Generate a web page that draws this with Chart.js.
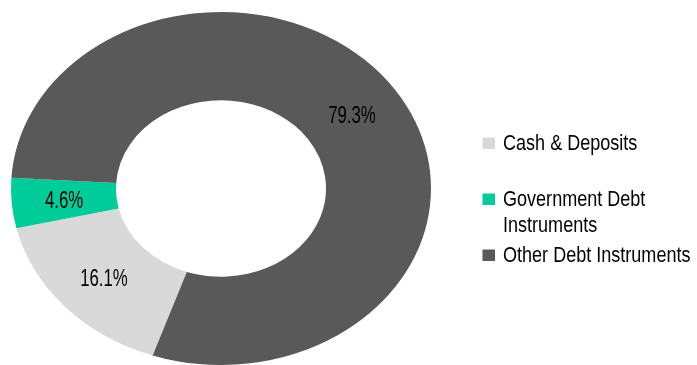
<!DOCTYPE html>
<html>
<head>
<meta charset="utf-8">
<script src="https://cdn.jsdelivr.net/npm/chart.js@4.4.0/dist/chart.umd.min.js"></script>
<style>
  html, body { margin: 0; padding: 0; background: #fff; }
  #wrap { position: relative; width: 697px; height: 365px; }
</style>
</head>
<body>
<div id="wrap"><canvas id="chartCanvas" width="697" height="365"></canvas></div>
<script>
const categories = ['Cash & Deposits', 'Government Debt Instruments', 'Other Debt Instruments'];
const legendLines = [['Cash & Deposits'], ['Government Debt', 'Instruments'], ['Other Debt Instruments']];
const shares = [16.1, 4.6, 79.3];
const sliceColors = ['#d9d9d9', '#00cc99', '#595959'];
const valueLabels = shares.map(v => v.toFixed(1) + '%');

// the ring is drawn as a circle and widened into an ellipse
const STRETCH_X = 210 / 176.5;
const FONT = '"Liberation Sans", Arial, sans-serif';

function narrowText(ctx, text, x, y, squeeze, align) {
    ctx.save();
    ctx.translate(x, y);
    ctx.scale(squeeze, 1);
    ctx.textAlign = align;
    ctx.fillText(text, 0, 0);
    ctx.restore();
}

const ellipsePlugin = {
    id: 'ellipse',
    beforeDatasetsDraw(chart) {
        const c = chart.getDatasetMeta(0).data[0];
        const ctx = chart.ctx;
        ctx.save();
        ctx.translate(c.x, c.y);
        ctx.scale(STRETCH_X, 1);
        ctx.translate(-c.x, -c.y);
    },
    afterDatasetsDraw(chart) {
        const ctx = chart.ctx;
        ctx.restore();

        // percentage labels in the middle of each ring segment
        ctx.save();
        ctx.fillStyle = '#000';
        ctx.textBaseline = 'alphabetic';
        ctx.font = '24px ' + FONT;
        chart.getDatasetMeta(0).data.forEach((arc, i) => {
            const p = arc.tooltipPosition();
            const x = arc.x + (p.x - arc.x) * STRETCH_X;
            narrowText(ctx, valueLabels[i], x, p.y + 8.5, 0.7, 'center');
        });
        ctx.restore();
    }
};

const sideLegend = {
    id: 'sideLegend',
    afterDraw(chart) {
        const ctx = chart.ctx;
        const rowY = [142, 198, 254];
        const lineHeight = 26;
        ctx.save();
        ctx.font = '22px ' + FONT;
        ctx.textBaseline = 'alphabetic';
        legendLines.forEach((lines, i) => {
            ctx.fillStyle = sliceColors[i];
            ctx.fillRect(482.5, rowY[i] - 4.5, 12.5, 11.5);
            ctx.fillStyle = '#000';
            lines.forEach((line, j) => {
                narrowText(ctx, line, 503, rowY[i] + 8 + j * lineHeight, 0.82, 'left');
            });
        });
        ctx.restore();
    }
};

new Chart(document.getElementById('chartCanvas'), {
    type: 'doughnut',
    data: {
        labels: categories,
        datasets: [{
            data: shares,
            backgroundColor: sliceColors,
            borderWidth: 0,
            hoverOffset: 0
        }]
    },
    options: {
        responsive: false,
        maintainAspectRatio: false,
        animation: false,
        events: [],
        cutout: '50%',
        rotation: 199,
        layout: { padding: { top: 12, bottom: 0, left: 44.5, right: 299.5 } },
        plugins: {
            legend: { display: false },
            tooltip: { enabled: false }
        }
    },
    plugins: [ellipsePlugin, sideLegend]
});
</script>
</body>
</html>
